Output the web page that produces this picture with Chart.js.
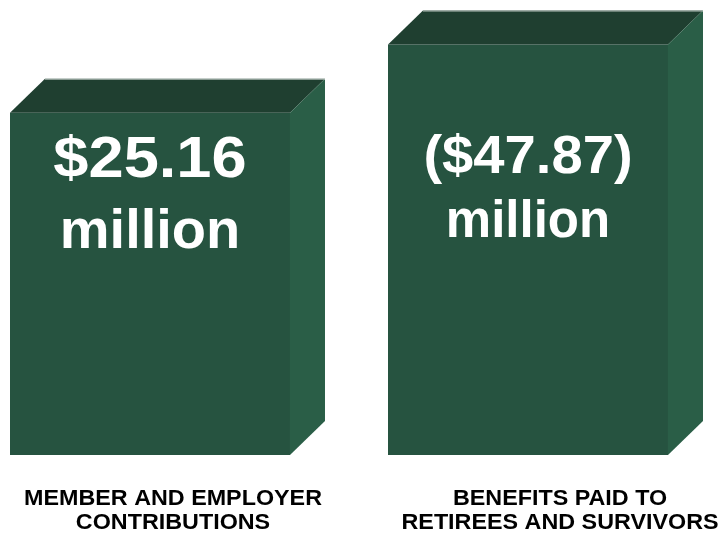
<!DOCTYPE html>
<html>
<head>
<meta charset="utf-8">
<script src="https://cdn.jsdelivr.net/npm/chart.js@4"></script>
<style>
  html, body { margin: 0; padding: 0; background: #ffffff; }
  #wrap { width: 723px; height: 540px; position: relative; }
</style>
</head>
<body>
<div id="wrap"><canvas id="c" width="723" height="540"></canvas></div>
<script>
// ---- data ----
const categories = [
  ['MEMBER AND EMPLOYER', 'CONTRIBUTIONS'],
  ['BENEFITS PAID TO', 'RETIREES AND SURVIVORS']
];
const amounts = [25.16, 47.87];           // $ million (absolute size of the flow)
const amountLabels = ['$25.16', '($47.87)'];
const unitLabel = 'million';

// ---- styles ----
const FRONT = '#265340';
const TOP = '#1f3f30';
const SIDE = '#2a5e47';
const DEPTH_X = 35, DEPTH_Y = 34;

const box3d = {
  id: 'box3d',
  afterDatasetsDraw(chart) {
    const ctx = chart.ctx;
    const meta = chart.getDatasetMeta(0);
    meta.data.forEach((bar, i) => {
      const { x, y, base, width } = bar.getProps(['x', 'y', 'base', 'width'], true);
      const l = x - width / 2, r = x + width / 2;
      ctx.save();
      // top face
      ctx.beginPath();
      ctx.moveTo(l, y);
      ctx.lineTo(l + DEPTH_X, y - DEPTH_Y);
      ctx.lineTo(r + DEPTH_X, y - DEPTH_Y);
      ctx.lineTo(r, y);
      ctx.closePath();
      ctx.fillStyle = TOP;
      ctx.fill();
      // side face
      ctx.beginPath();
      ctx.moveTo(r, y);
      ctx.lineTo(r + DEPTH_X, y - DEPTH_Y);
      ctx.lineTo(r + DEPTH_X, base - DEPTH_Y);
      ctx.lineTo(r, base);
      ctx.closePath();
      ctx.fillStyle = SIDE;
      ctx.fill();
      // thin light back edge
      ctx.beginPath();
      ctx.moveTo(l + DEPTH_X, y - DEPTH_Y + 0.5);
      ctx.lineTo(r + DEPTH_X, y - DEPTH_Y + 0.5);
      ctx.strokeStyle = 'rgba(190,200,195,0.8)';
      ctx.lineWidth = 1;
      ctx.stroke();
      ctx.restore();
    });
  },
  afterDraw(chart) {
    const ctx = chart.ctx;
    const meta = chart.getDatasetMeta(0);
    const cfg = chart.options.plugins.box3d;
    const FONT = '"Liberation Sans", Arial, sans-serif';
    meta.data.forEach((bar, i) => {
      const x = bar.x;
      const vs = cfg.valueStyle[i];
      ctx.save();
      ctx.fillStyle = '#ffffff';
      ctx.textAlign = 'center';
      ctx.textBaseline = 'alphabetic';
      // amount
      ctx.save();
      ctx.translate(x, vs.y1);
      ctx.scale(vs.sx1, 1);
      ctx.font = 'bold ' + vs.size1 + 'px ' + FONT;
      ctx.fillText(amountLabels[i], 0, 0);
      ctx.restore();
      // million
      ctx.save();
      ctx.translate(x, vs.y2);
      ctx.font = 'bold ' + vs.size2 + 'px ' + FONT;
      ctx.fillText(unitLabel, 0, 0);
      ctx.restore();
      // category label
      ctx.fillStyle = '#000000';
      categories[i].forEach((line, k) => {
        ctx.save();
        ctx.translate(x + cfg.labelShift[i], cfg.labelY[k]);
        ctx.scale(cfg.labelStretch, 1);
        ctx.font = 'bold 22px ' + FONT;
        ctx.fillText(line, 0, 0);
        ctx.restore();
      });
      ctx.restore();
    });
  }
};

new Chart(document.getElementById('c'), {
  type: 'bar',
  data: {
    labels: categories,
    datasets: [{
      data: amounts,
      backgroundColor: FRONT,
      borderWidth: 0,
      categoryPercentage: 1,
      barPercentage: 0.7407,
      clip: false
    }]
  },
  options: {
    responsive: false,
    animation: false,
    devicePixelRatio: 1,
    layout: { padding: { left: 150, right: 195, top: 40, bottom: 85 } },
    scales: {
      x: { type: 'category', offset: false, display: false },
      y: { type: 'logarithmic', min: 1, max: 50, display: false }
    },
    plugins: {
      legend: { display: false },
      tooltip: { enabled: false },
      box3d: {
        labelStretch: 1.06,
        labelShift: [23, 32],
        labelY: [505, 529],
        valueStyle: [
          { size1: 58, sx1: 1.09, y1: 177, size2: 56, y2: 248 },
          { size1: 53, sx1: 1.06, y1: 173, size2: 51, y2: 237 }
        ]
      }
    }
  },
  plugins: [box3d]
});
</script>
</body>
</html>
